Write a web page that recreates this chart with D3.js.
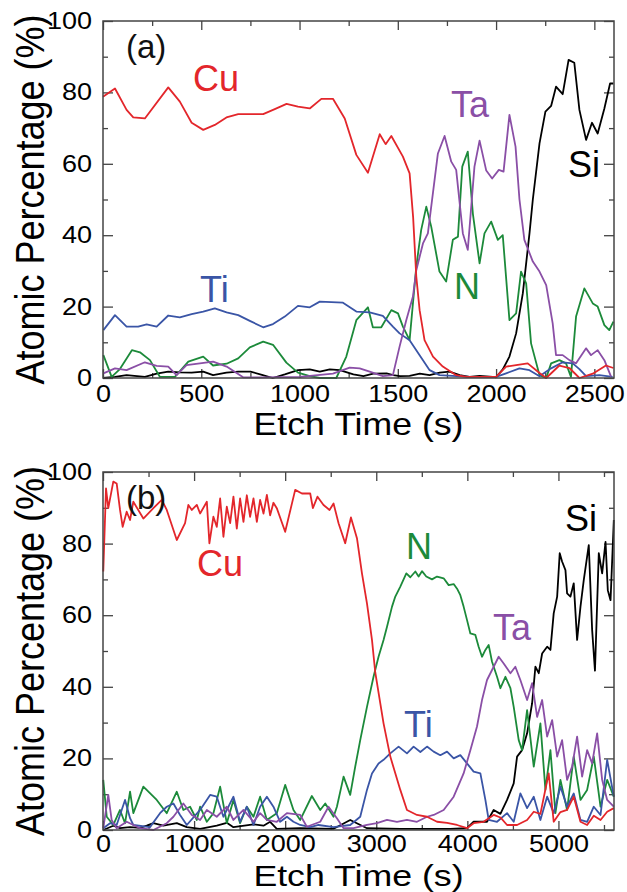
<!DOCTYPE html>
<html><head><meta charset="utf-8">
<script src="https://cdn.jsdelivr.net/npm/d3@7"></script>
<style>body{margin:0;background:#fff}svg{display:block}</style>
</head><body>
<svg id="c" width="627" height="892"></svg>
<script>
// ---------- Panel (a) data: [etch time (s), atomic %] ----------
const cuA = [[0,78.8],[61,81.1],[120,75.1],[154,73.0],[213,72.7],[332,81.4],[391,77.4],[451,71.5],[510,69.5],[569,70.9],[628,73.0],[688,73.9],[815,73.9],[874,75.3],[934,76.8],[992,76.0],[1052,75.5],[1111,78.2],[1170,78.2],[1230,72.7],[1289,62.5],[1348,57.5],[1408,68.3],[1438,65.5],[1467,67.8],[1526,62.0],[1560,57.3],[1578,45],[1594,28.4],[1611,19],[1636,10.6],[1679,6],[1729,3.2],[1797,0.8],[1850,0.3],[2000,0.3],[2051,3.2],[2102,3.6],[2161,4.1],[2221,1.4],[2255,0],[2322,3.5],[2373,2.8],[2424,0],[2492,1.2],[2559,3.5],[2597,2.8]];
const tiA = [[2,13.4],[61,17.6],[120,14.4],[179,14.4],[222,15],[273,14.4],[332,17.5],[391,17],[451,17.9],[510,18.6],[569,19.5],[629,18.4],[688,17.6],[747,16],[815,14.2],[865,15.1],[925,17.2],[992,20.2],[1052,19.8],[1103,21.4],[1221,21.1],[1289,18.6],[1357,18.4],[1424,17.4],[1475,14.4],[1509,12.5],[1560,10.6],[1611,6.4],[1662,2.2],[1712,0.8],[1865,0.3],[2000,0.3],[2051,1.3],[2119,2.7],[2170,2.2],[2221,0.5],[2280,2.7],[2339,4.4],[2390,4.1],[2424,2.5],[2458,0.5],[2525,0.8],[2593,0.3]];
const nA = [[2,6.4],[44,0.3],[86,2.5],[147,7.8],[188,7.2],[239,5],[290,0.3],[366,0.3],[434,4.6],[510,6],[560,3.5],[629,4],[688,5.5],[747,8.6],[815,10.2],[865,9.3],[933,4.3],[992,1.5],[1052,0.5],[1103,0],[1187,0],[1238,6],[1289,16.2],[1348,19.8],[1373,14.2],[1416,14.2],[1467,19],[1501,18.1],[1526,14.4],[1560,10.6],[1594,31.2],[1619,41.5],[1645,48],[1670,42.4],[1712,29.8],[1746,27],[1780,38.7],[1806,39.6],[1828,59.2],[1856,63.4],[1882,46],[1916,32.1],[1941,40.5],[1975,43.8],[2009,38.7],[2034,40],[2068,16.2],[2102,18.1],[2127,29.8],[2153,26.5],[2178,9.7],[2221,0.8],[2255,0],[2280,4.1],[2322,5],[2356,4.1],[2381,0.3],[2407,17.2],[2449,25.1],[2492,20.9],[2517,20],[2551,14.8],[2576,13.4],[2597,15.8]];
const taA = [[2,1.3],[61,2.7],[120,2.2],[213,4.4],[273,3.4],[332,3.2],[374,0.8],[425,3.6],[493,4.1],[560,4.6],[629,3.2],[713,0.2],[813,0.2],[1001,0.3],[1170,1.2],[1255,2.9],[1306,2.7],[1357,1.8],[1424,0.5],[1475,0.8],[1509,8.8],[1543,16.2],[1577,22.8],[1594,30.2],[1628,37.7],[1653,40.5],[1704,62.9],[1738,67.8],[1772,60.6],[1797,58.3],[1831,40.5],[1856,35.9],[1890,59.2],[1916,66.5],[1950,58.1],[1980,55.9],[2014,58.3],[2038,57.8],[2068,73.7],[2099,64.8],[2119,50],[2144,38.7],[2187,32.6],[2221,29.8],[2255,26],[2288,15.3],[2305,6.4],[2339,6.4],[2373,5],[2407,4.1],[2458,8.3],[2483,6.4],[2517,7.8],[2551,5],[2585,0.4]];
const siA = [[0,0],[61,0.3],[120,0.8],[213,0.3],[273,1.2],[332,1.8],[391,1.6],[451,1.5],[510,1.8],[560,0.8],[628,1.5],[688,1.8],[750,1.8],[813,0.8],[864,0],[925,1],[992,2.2],[1052,2.4],[1103,1.8],[1154,2.4],[1205,2.2],[1274,1],[1325,0.5],[1375,1.2],[1443,1.3],[1476,0.8],[1511,0.5],[1560,0.6],[1612,1.2],[1662,0.8],[1713,1.5],[1763,1.8],[1815,0.8],[1865,0.3],[1916,0.6],[1983,0.3],[2000,0.2],[2034,2.4],[2068,6],[2102,12.5],[2136,23.7],[2170,40.5],[2187,50],[2221,65.7],[2251,74.6],[2280,76.2],[2305,81.6],[2339,79.5],[2369,89.1],[2398,88.3],[2424,75.1],[2458,66.7],[2488,71.5],[2517,68.5],[2551,75.5],[2580,82.5],[2597,82.5]];

// ---------- Panel (b) data ----------
const cuB = [[3,72.2],[33,95.4],[58,89.9],[113,97.3],[150,96.8],[187,89.4],[216,84.7],[260,88.9],[297,86.6],[333,91.7],[443,87],[553,89.9],[645,92.2],[700,89.4],[810,81],[901,85.7],[937,90.8],[975,89.4],[1030,90.8],[1066,88.4],[1140,91.7],[1168,80.1],[1212,87.5],[1249,84.7],[1286,92.6],[1322,81.9],[1359,90.3],[1396,85.7],[1432,93.1],[1469,84.2],[1505,92.6],[1542,86.1],[1579,93.5],[1615,87.5],[1652,92.6],[1689,86.1],[1725,92.2],[1762,88.4],[1799,93.6],[1835,87.9],[1871,91.4],[1908,89.9],[2000,83.3],[2110,95],[2184,94],[2275,94],[2304,89.9],[2355,93.1],[2421,90.8],[2487,89.4],[2531,91.2],[2586,85.7],[2659,80.1],[2722,87.3],[2788,81.5],[2843,71.7],[2898,63.3],[2953,53.1],[2989,44],[3080,29.8],[3154,20.5],[3264,11.2],[3337,5.6],[3447,4.2],[3557,3.7],[3667,2.3],[3777,2],[3887,1.4],[3996,0.5],[4069,1.9],[4179,2.3],[4289,4.2],[4363,3.5],[4436,1.4],[4546,1.4],[4656,2.8],[4729,5.1],[4802,4.5],[4893,15.8],[4948,2.3],[5022,5],[5095,5.6],[5168,9.3],[5242,2.3],[5315,1.4],[5388,4],[5462,2.8],[5535,5.1],[5608,6.1]];
const nB = [[3,14],[41,3.7],[113,1.4],[187,5.6],[242,1.9],[297,10.7],[333,4.7],[443,12.1],[590,8.4],[700,4.7],[810,10.7],[882,5.6],[956,6.5],[1030,2.8],[1066,6.5],[1140,2.3],[1212,4.7],[1286,12.1],[1359,1.9],[1432,8.4],[1505,1.9],[1579,6.5],[1652,3.7],[1725,9.3],[1799,2.8],[1908,4.7],[2000,12.6],[2091,5.6],[2165,2.8],[2293,9.5],[2385,5.6],[2440,7.4],[2531,3.7],[2568,6.5],[2641,14.9],[2714,9.8],[2769,17.7],[2824,25.1],[2898,34.4],[2970,42.8],[3025,48.4],[3080,53.1],[3118,56.8],[3173,62.4],[3209,65.2],[3264,68],[3330,71.7],[3374,70.6],[3429,72.2],[3465,70.8],[3502,72.3],[3549,70.8],[3612,70],[3667,70.8],[3740,70.3],[3795,68.4],[3850,68.7],[3887,67.4],[3923,65.6],[3959,62.4],[3996,58.7],[4033,54.9],[4088,54.5],[4124,51.2],[4161,48.4],[4198,50.3],[4234,51.7],[4271,47],[4326,42.8],[4363,39.6],[4418,42.8],[4473,39.6],[4509,34.4],[4564,25.1],[4601,22.3],[4656,33.5],[4729,17.7],[4802,29.8],[4857,11.2],[4912,22.3],[4967,4.7],[5022,14],[5095,5.6],[5168,20.5],[5242,8.4],[5315,11.2],[5388,20.5],[5462,6.5],[5535,14],[5608,9.3]];
const tiB = [[3,0.5],[77,1.9],[150,1.4],[242,8.4],[297,3.3],[333,1.4],[516,0.8],[626,4.7],[700,6.5],[773,7.4],[846,4.2],[920,1.4],[1066,5.6],[1176,9.8],[1249,9.3],[1322,3.7],[1432,9.3],[1505,2.3],[1579,6.5],[1652,1.4],[1725,6.5],[1799,9.3],[1871,6.5],[1945,2.3],[2019,3.7],[2091,2.3],[2165,1.4],[2275,0.8],[2366,1.4],[2531,0.8],[2714,1.4],[2824,3.7],[2898,11.2],[2953,15.8],[3025,18.6],[3080,19.6],[3154,21.4],[3245,23.3],[3337,21.4],[3410,23.3],[3484,21.8],[3557,23.3],[3630,21.9],[3703,20.9],[3777,21.9],[3850,20],[3923,20.9],[3996,18.6],[4069,16.3],[4143,15.8],[4198,8.4],[4234,2.8],[4326,2.3],[4436,4.7],[4509,2.3],[4582,10.2],[4656,6.1],[4729,9.3],[4802,2.8],[4876,9.3],[4948,4.7],[5022,12.1],[5095,6.5],[5168,10.2],[5242,2.8],[5315,2.3],[5388,6.5],[5462,4.2],[5535,19.6],[5608,9.3]];
const taB = [[3,0.5],[58,9.8],[95,2.8],[150,0.5],[260,2.3],[407,0.5],[553,0],[700,1.9],[773,3.7],[882,7.4],[975,4.2],[1066,2.8],[1140,5.6],[1249,3.7],[1359,6.5],[1432,2.8],[1542,5.6],[1652,2.3],[1725,4.7],[1799,2.8],[1908,2.3],[2019,4.7],[2165,4.2],[2238,0.9],[2385,2.3],[2476,6.5],[2568,3.3],[2641,0.5],[2751,0.5],[2898,1.4],[3008,1.9],[3118,2.8],[3227,2.3],[3337,2.8],[3447,2.3],[3557,3.7],[3630,4.2],[3740,5.6],[3850,9.3],[3959,15.8],[4033,22.3],[4106,28.9],[4161,36.3],[4216,41.9],[4271,44.7],[4344,48.4],[4399,46.5],[4473,43.8],[4527,45.6],[4582,41.9],[4656,36.3],[4711,41],[4766,31.6],[4821,36.3],[4876,26.1],[4931,30.7],[4986,20.5],[5040,25.1],[5095,14],[5150,17.7],[5205,26.1],[5260,14.9],[5315,22.3],[5370,18.6],[5425,27],[5480,14],[5535,8.4],[5608,6.5]];
const siB = [[3,0],[113,1.2],[187,0.5],[297,0.8],[407,0.6],[480,1.2],[553,1.9],[663,1.2],[810,1.9],[920,0.8],[1066,0.3],[1249,1.2],[1359,2],[1432,0.8],[1652,1.6],[1762,1.2],[1835,2.3],[1908,0.3],[2165,0.5],[2527,0.3],[2714,2.8],[2898,0.5],[3264,0.3],[3813,0.3],[3996,0.5],[4069,2.3],[4216,2.3],[4289,5.6],[4363,4.5],[4436,8.4],[4509,13],[4546,20.5],[4601,22.3],[4656,27],[4711,35.4],[4747,45.6],[4784,43.8],[4821,49.3],[4876,51.2],[4912,50.3],[4948,60.5],[4986,65.2],[5014,77.3],[5040,75],[5077,72.6],[5095,66.1],[5132,65.2],[5168,68.9],[5205,53.1],[5242,62.4],[5278,69.8],[5333,79.6],[5370,55.9],[5401,44.5],[5443,77.3],[5480,71.7],[5517,80.5],[5542,67],[5572,64.2],[5608,86.6]];

// ---------- ticks / labels ----------
const xMajorA = [0,500,1000,1500,2000,2500];
const xMinorA = [250,750,1250,1750,2250];
const xMajorB = [0,1000,2000,3000,4000,5000];
const xMinorB = [500,1500,2500,3500,4500,5500];
const yMajor = [0,20,40,60,80,100];
const yMinor = [10,30,50,70,90];
const colors = {Cu:"#e3262b", Ti:"#3a55a6", N:"#1c8a3a", Ta:"#8a4fa6", Si:"#000000"};
const xTitle = "Etch Time (s)";
const yTitle = "Atomic Percentage (%)";

const FONT = "'Liberation Sans', Arial, Helvetica, sans-serif";
const svg = d3.select("#c");
const AX = "#444";

function panel(cfg){
  const L = 103, R = 614;
  const x = d3.scaleLinear().domain([0, cfg.xmax]).range([L, R]);
  const y = d3.scaleLinear().domain([0, 100]).range([cfg.bottom, cfg.top]);
  const g = svg.append("g");

  function style(sel){
    sel.select(".domain").remove();
    sel.selectAll(".tick line").attr("stroke", AX).attr("stroke-width", 1.3);
    sel.selectAll(".tick text").attr("fill","#000").style("font-family",FONT).style("font-size","23.5px");
  }
  g.append("g").attr("transform",`translate(0,${cfg.bottom})`)
    .call(d3.axisBottom(x).tickValues(cfg.xMajor).tickSize(-9).tickPadding(cfg.xPad).tickFormat(d3.format("d")))
    .call(style).call(s=>s.selectAll(".tick text").attr("transform","scale(1.15,1)"));
  g.append("g").attr("transform",`translate(0,${cfg.bottom})`)
    .call(d3.axisBottom(x).tickValues(cfg.xMinor).tickSize(-5).tickFormat("")).call(style);
  g.append("g").attr("transform",`translate(0,${cfg.top})`)
    .call(d3.axisTop(x).tickValues(cfg.xMajor).tickSize(-9).tickFormat("")).call(style);
  g.append("g").attr("transform",`translate(0,${cfg.top})`)
    .call(d3.axisTop(x).tickValues(cfg.xMinor).tickSize(-5).tickFormat("")).call(style);
  g.append("g").attr("transform",`translate(${L},0)`)
    .call(d3.axisLeft(y).tickValues(yMajor).tickSize(-10).tickPadding(9.5).tickFormat(d3.format("d")))
    .call(style).call(s=>s.selectAll(".tick text").attr("transform","scale(1.15,1)"));
  g.append("g").attr("transform",`translate(${L},0)`)
    .call(d3.axisLeft(y).tickValues(yMinor).tickSize(-5).tickFormat("")).call(style);
  g.append("g").attr("transform",`translate(${R},0)`)
    .call(d3.axisRight(y).tickValues(yMajor).tickSize(-10).tickFormat("")).call(style);
  g.append("g").attr("transform",`translate(${R},0)`)
    .call(d3.axisRight(y).tickValues(yMinor).tickSize(-5).tickFormat("")).call(style);

  const line = d3.line().x(d=>x(d[0])).y(d=>y(d[1]));
  cfg.order.forEach(el=>{
    g.append("path").datum(cfg.series[el]).attr("d", line)
      .attr("fill","none").attr("stroke", colors[el]).attr("stroke-width",1.8)
      .attr("stroke-linejoin","round");
  });

  g.append("rect").attr("x",L).attr("y",cfg.top).attr("width",R-L).attr("height",cfg.bottom-cfg.top)
    .attr("fill","none").attr("stroke",AX).attr("stroke-width",1.5);

  g.append("text").attr("x",126).attr("y",cfg.top+37).text(cfg.letter)
    .style("font-family",FONT).style("font-size","33px").attr("fill","#111");

  cfg.labels.forEach(lb=>{
    g.append("text").attr("x",lb.x).attr("y",lb.y).text(lb.el)
      .style("font-family",FONT).style("font-size","36px").attr("fill",colors[lb.el]);
  });

  g.append("text").attr("transform",`translate(${(L+R)/2},${cfg.xTitleY}) scale(${cfg.xTitleScale},1)`)
    .attr("text-anchor","middle").text(xTitle)
    .style("font-family",FONT).style("font-size",cfg.xTitleSize+"px").attr("fill","#000");
  g.append("text").attr("transform",`translate(44,${(cfg.top+cfg.bottom)/2}) scale(1.15,1) rotate(-90)`)
    .attr("text-anchor","middle").text(yTitle)
    .style("font-family",FONT).style("font-size","36px").attr("fill","#000");
}

panel({
  xmax: 2600, top: 21, bottom: 378, xMajor: xMajorA, xMinor: xMinorA, letter: "(a)",
  xPad: 7, xTitleY: 435, xTitleSize: 31, xTitleScale: 1.15,
  series: {Cu: cuA, Ti: tiA, N: nA, Ta: taA, Si: siA},
  order: ["Si","N","Ti","Ta","Cu"],
  labels: [{el:"Cu",x:193,y:91},{el:"Ta",x:451,y:117},{el:"Si",x:568,y:177},{el:"Ti",x:200,y:302},{el:"N",x:454,y:299}]
});
panel({
  xmax: 5610, top: 472, bottom: 830, xMajor: xMajorB, xMinor: xMinorB, letter: "(b)",
  xPad: 5, xTitleY: 885.5, xTitleSize: 30, xTitleScale: 1.19,
  series: {Cu: cuB, Ti: tiB, N: nB, Ta: taB, Si: siB},
  order: ["Si","N","Ti","Ta","Cu"],
  labels: [{el:"Cu",x:197,y:576},{el:"N",x:406,y:559},{el:"Si",x:565,y:531},{el:"Ta",x:493,y:640},{el:"Ti",x:404,y:737}]
});
</script>
</body></html>
